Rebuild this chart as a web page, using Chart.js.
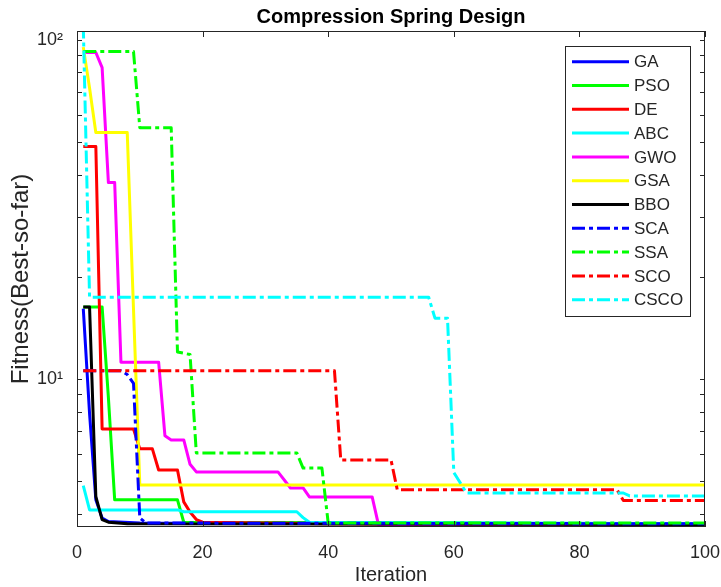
<!DOCTYPE html>
<html>
<head>
<meta charset="utf-8">
<title>Compression Spring Design</title>
<script src="https://cdn.jsdelivr.net/npm/chart.js@4.4.1/dist/chart.umd.min.js"></script>
<style>
  html, body { margin: 0; padding: 0; background: #fff; }
  #wrap { width: 721px; height: 587px; }
</style>
</head>
<body>
<div id="wrap"><canvas id="chart" width="721" height="587"></canvas></div>
<script>
// Convergence curves: [iteration, best-so-far fitness] at every change of the curve
const GA   = [[1,16.1],[2,7.9],[3,4.4],[4,3.89],[5,3.8],[10,3.76],[100,3.74]];
const PSO  = [[1,16.3],[4,16.3],[5,8.8],[6,4.4],[16,4.4],[17,3.78],[60,3.76],[100,3.72]];
const DE   = [[1,48.4],[3,48.4],[4,7.12],[9,7.12],[10,6.22],[12,6.22],[13,5.39],[16,5.39],[17,4.34],[18,4.05],[19,3.85],[20,3.78],[40,3.74],[100,3.69]];
const ABC  = [[1,4.85],[2,4.11],[16,4.11],[17,4.06],[35,4.06],[36,3.9],[37,3.78],[100,3.74]];
const GWO  = [[1,91.6],[3,91.6],[4,82.7],[5,37.9],[6,37.9],[7,11.2],[13,11.2],[14,6.8],[15,6.61],[17,6.61],[18,5.6],[19,5.32],[32,5.32],[34,4.77],[36,4.77],[37,4.49],[47,4.49],[48,3.72],[100,3.69]];
const GSA  = [[1,95],[2,72],[3,53.2],[8,53.2],[9,16],[10,4.87],[100,4.87]];
const BBO  = [[1,16.3],[2,16.3],[3,4.5],[4,3.85],[5,3.78],[8,3.74],[100,3.72]];
const SCA  = [[1,10.56],[7,10.56],[8,10.3],[9,9.7],[10,3.89],[11,3.76],[100,3.74]];
const SSA  = [[1,92.2],[9,92.2],[10,55],[15,55],[16,12.0],[18,11.8],[19,6.05],[35,6.05],[36,5.46],[39,5.46],[40,3.76],[100,3.76]];
const SCO  = [[1,10.56],[41,10.56],[42,5.77],[50,5.77],[51,4.71],[86,4.71],[87,4.38],[100,4.38]];
const CSCO = [[1,110],[2,17.4],[56,17.4],[57,15.1],[59,15.1],[60,5.3],[61,4.95],[62,4.61],[87,4.61],[88,4.52],[100,4.52]];

const seriesNames = ['GA', 'PSO', 'DE', 'ABC', 'GWO', 'GSA', 'BBO', 'SCA', 'SSA', 'SCO', 'CSCO'];
const seriesData = [GA, PSO, DE, ABC, GWO, GSA, BBO, SCA, SSA, SCO, CSCO];

// tick values
const xTicks = [0, 20, 40, 60, 80, 100];
const yTicks = [10, 100];
const yMinorTicks = [4, 5, 6, 7, 8, 9, 20, 30, 40, 50, 60, 70, 80, 90];
const yRange = [3.66, 106];

// styles
const seriesColors = ['#0000ff', '#00ff00', '#ff0000', '#00ffff', '#ff00ff', '#ffff00', '#000000',
                      '#0000ff', '#00ff00', '#ff0000', '#00ffff'];
const dashDot = [13, 4, 4, 4];
const FONT = "'Liberation Sans', Arial, Helvetica, sans-serif";
const AXIS_COLOR = '#262626';

function isDashed(i) {
    return i >= 7;
}

// MATLAB style box, inward ticks, title and legend
const matlabFrame = {
    id: 'matlabFrame',
    afterDatasetsDraw(chart) {
        const { ctx, chartArea: a, scales } = chart;
        ctx.save();
        ctx.strokeStyle = AXIS_COLOR;
        ctx.lineWidth = 1;
        ctx.strokeRect(a.left + 0.5, a.top + 0.5, a.right - a.left - 1, a.bottom - a.top - 1);

        ctx.beginPath();
        xTicks.forEach(v => {
            const px = Math.round(scales.x.getPixelForValue(v)) + 0.5;
            ctx.moveTo(px, a.bottom);
            ctx.lineTo(px, a.bottom - 6);
            ctx.moveTo(px, a.top);
            ctx.lineTo(px, a.top + 6);
        });
        yTicks.concat(yMinorTicks).forEach(v => {
            const py = Math.round(scales.y.getPixelForValue(v)) + 0.5;
            ctx.moveTo(a.left, py);
            ctx.lineTo(a.left + 5, py);
            ctx.moveTo(a.right, py);
            ctx.lineTo(a.right - 5, py);
        });
        ctx.stroke();
        ctx.restore();
    },
    afterDraw(chart) {
        const { ctx, chartArea: a } = chart;
        ctx.save();

        // title
        ctx.fillStyle = '#000';
        ctx.font = 'bold 20px ' + FONT;
        ctx.textAlign = 'center';
        ctx.textBaseline = 'middle';
        ctx.fillText('Compression Spring Design', (a.left + a.right) / 2, 17);

        // legend
        const box = { left: 565, top: 46, width: 125, height: 270 };
        ctx.fillStyle = '#fff';
        ctx.fillRect(box.left, box.top, box.width, box.height);
        ctx.strokeStyle = AXIS_COLOR;
        ctx.lineWidth = 1;
        ctx.strokeRect(box.left + 0.5, box.top + 0.5, box.width, box.height);

        ctx.font = '17px ' + FONT;
        ctx.textAlign = 'left';
        ctx.textBaseline = 'middle';
        seriesNames.forEach((name, i) => {
            const yy = 61.7 + i * 23.8;
            ctx.beginPath();
            ctx.setLineDash(isDashed(i) ? dashDot : []);
            ctx.lineCap = 'butt';
            ctx.strokeStyle = seriesColors[i];
            ctx.lineWidth = 3;
            ctx.moveTo(572, yy);
            ctx.lineTo(629, yy);
            ctx.stroke();
            ctx.setLineDash([]);
            ctx.fillStyle = AXIS_COLOR;
            ctx.fillText(name, 634, yy + 1);
        });
        ctx.restore();
    }
};

function buildDatasets() {
    return seriesData.map((pts, i) => ({
        label: seriesNames[i],
        data: pts.map(p => ({ x: p[0], y: p[1] })),
        borderColor: seriesColors[i],
        backgroundColor: seriesColors[i],
        borderWidth: 3,
        borderDash: isDashed(i) ? dashDot : [],
        borderCapStyle: 'butt',
        borderJoinStyle: 'round',
        pointRadius: 0,
        tension: 0,
        fill: false,
        order: seriesData.length - 1 - i
    }));
}

function createChart() {
    const ctx = document.getElementById('chart').getContext('2d');
    new Chart(ctx, {
        type: 'line',
        data: { datasets: buildDatasets() },
        options: {
            responsive: false,
            animation: false,
            devicePixelRatio: 1,
            layout: { padding: { top: 31, right: 0, left: 0, bottom: 0 } },
            plugins: {
                legend: { display: false },
                tooltip: { enabled: false },
                title: { display: false }
            },
            scales: {
                x: {
                    type: 'linear',
                    min: 0,
                    max: 100,
                    grid: { display: false },
                    border: { display: false },
                    afterBuildTicks: axis => {
                        axis.ticks = xTicks.map(v => ({ value: v }));
                    },
                    afterFit: axis => {
                        axis.height = 60;
                        axis.paddingLeft = 0;
                        axis.paddingRight = 16;
                    },
                    ticks: {
                        color: AXIS_COLOR,
                        font: { family: FONT, size: 18 },
                        padding: 7,
                        maxRotation: 0,
                        autoSkip: false
                    },
                    title: {
                        display: true,
                        text: 'Iteration',
                        color: AXIS_COLOR,
                        font: { family: FONT, size: 20 },
                        padding: { top: 0, bottom: 0 }
                    }
                },
                y: {
                    type: 'logarithmic',
                    min: yRange[0],
                    max: yRange[1],
                    grid: { display: false },
                    border: { display: false },
                    afterBuildTicks: axis => {
                        axis.ticks = yTicks.map(v => ({ value: v }));
                    },
                    afterFit: axis => { axis.width = 77; },
                    ticks: {
                        color: AXIS_COLOR,
                        font: { family: FONT, size: 18 },
                        padding: 6,
                        callback: v => (v === 10 ? '10\u00b9' : '10\u00b2')
                    },
                    title: {
                        display: true,
                        text: 'Fitness(Best-so-far)',
                        color: AXIS_COLOR,
                        font: { family: FONT, size: 24 },
                        padding: { top: 7, bottom: 0 }
                    }
                }
            }
        },
        plugins: [matlabFrame]
    });
}

document.addEventListener('DOMContentLoaded', createChart);
</script>
</body>
</html>
